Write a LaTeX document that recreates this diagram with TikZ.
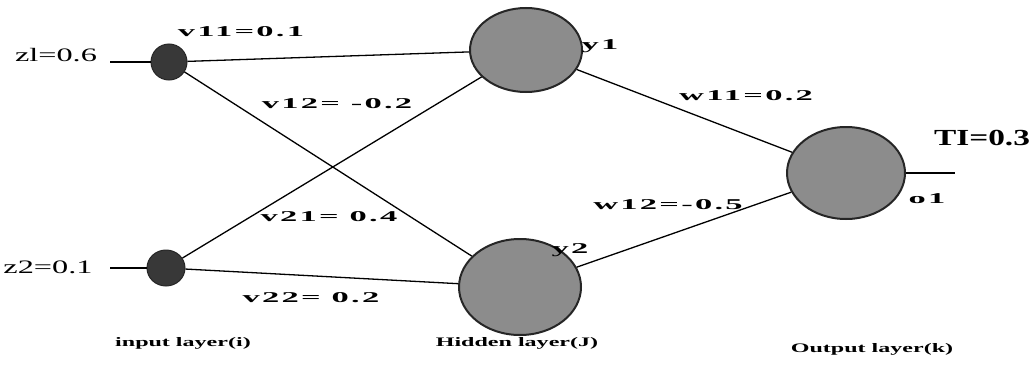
\documentclass[tikz,border=0pt]{standalone}
\usepackage{fontspec}
\setmainfont{Liberation Serif}
\newfontfamily\zfont[FakeStretch=1.7]{Liberation Serif}
\newfontfamily\tfont[FakeStretch=1.45]{Liberation Serif}
\newfontfamily\wfont[FakeStretch=2.3,LetterSpace=15]{Liberation Serif}
\newfontfamily\layfont[FakeStretch=1.85]{Liberation Serif}
\usetikzlibrary{shapes.geometric}
\begin{document}
\begin{tikzpicture}[x=1pt,y=-1pt,
  conn/.style={draw=black,line width=1.3pt},
  inode/.style={ellipse,draw=black!85,line width=1pt,fill=black!78,inner sep=0pt},
  hnode/.style={ellipse,draw=black!85,line width=2pt,fill=black!45,inner sep=0pt},
  zlab/.style={inner sep=0pt,font=\zfont\fontsize{19}{19}\selectfont},
  tlab/.style={inner sep=0pt,font=\tfont\bfseries\fontsize{23}{23}\selectfont},
  wlab/.style={inner sep=0pt,font=\wfont\bfseries\fontsize{15}{15}\selectfont},
  laylab/.style={inner sep=0pt,font=\layfont\bfseries\fontsize{13}{13}\selectfont}]
\useasboundingbox (0,0) rectangle (1030,364);
% nodes
\node[inode,minimum width=36pt,minimum height=36pt] (i1) at (169,62) {};
\node[inode,minimum width=38pt,minimum height=36pt] (i2) at (166,268) {};
\node[hnode,minimum width=112pt,minimum height=84pt] (y1) at (526,50) {};
\node[hnode,minimum width=122pt,minimum height=96pt] (y2) at (520,287) {};
\node[hnode,minimum width=118pt,minimum height=92pt] (o1) at (846,173) {};
\coordinate (z1e) at (110,62);
\coordinate (z2e) at (110,268);
\coordinate (te) at (955,173);
% connectors
\draw[conn] (z1e) -- (i1);
\draw[conn] (z2e) -- (i2);
\draw[conn] (i1) -- (y1);
\draw[conn] (i1) -- (y2);
\draw[conn] (i2) -- (y1);
\draw[conn] (i2) -- (y2);
\draw[conn] (y1) -- (o1);
\draw[conn] (y2) -- (o1);
\draw[conn] (o1) -- (te);
% labels
\node[zlab] (lz1) at (56,55) {zl=0.6};
\node[zlab] (lz2) at (48,267) {z2=0.1};
\node[tlab] (lt) at (982,138) {TI=0.3};
\node[wlab] (l11) at (241,32) {v11=0.1};
\node[wlab] (l12) at (337,104) {v12= -0.2};
\node[wlab] (l21) at (329,217) {v21= 0.4};
\node[wlab] (l22) at (311,298) {v22= 0.2};
\node[wlab] (lw11) at (746,96) {w11=0.2};
\node[wlab] (lw12) at (668,205) {w12=-0.5};
\node[wlab] (ly1) at (600,46) {y1};
\node[wlab] (ly2) at (570,250) {y2};
\node[wlab] (lo1) at (927,199) {o1};
\node[laylab] (la1) at (183,343) {input layer(i)};
\node[laylab] (la2) at (517,343) {Hidden layer(J)};
\node[laylab] (la3) at (872,349) {Output layer(k)};
\end{tikzpicture}
\end{document}
